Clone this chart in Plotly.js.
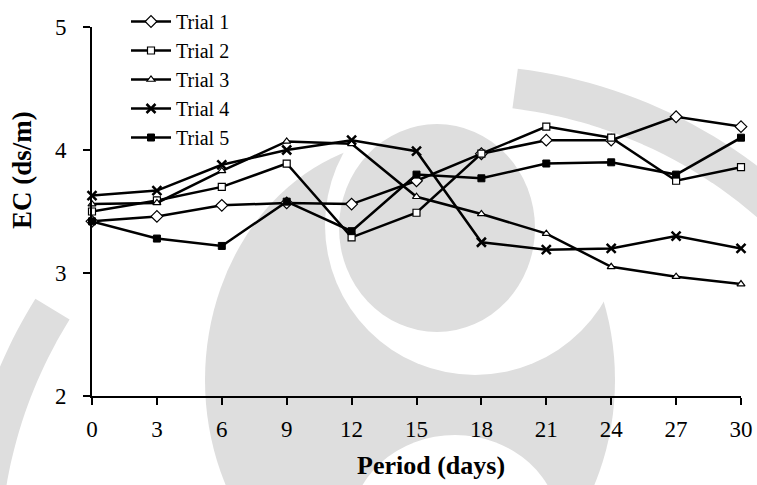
<!DOCTYPE html>
<html>
<head>
<meta charset="utf-8">
<script src="https://cdn.plot.ly/plotly-3.0.1.min.js"></script>
<style>
  html, body { margin: 0; padding: 0; background: #ffffff; }
  #chart { width: 757px; height: 485px; }
</style>
</head>
<body>
<div id="chart"></div>
<script>
// Sampling days
const days = [0, 3, 6, 9, 12, 15, 18, 21, 24, 27, 30];

// Electrical conductivity (ds/m) per trial
const trial1 = [3.42, 3.46, 3.55, 3.57, 3.56, 3.75, 3.97, 4.08, 4.08, 4.27, 4.19];
const trial2 = [3.50, 3.59, 3.70, 3.89, 3.29, 3.49, 3.97, 4.19, 4.10, 3.75, 3.86];
const trial3 = [3.56, 3.57, 3.83, 4.07, 4.05, 3.62, 3.48, 3.32, 3.05, 2.97, 2.91];
const trial4 = [3.63, 3.67, 3.88, 4.00, 4.08, 3.99, 3.25, 3.19, 3.20, 3.30, 3.20];
const trial5 = [3.42, 3.28, 3.22, 3.58, 3.34, 3.80, 3.77, 3.89, 3.90, 3.80, 4.10];

const seriesNames = ['Trial 1', 'Trial 2', 'Trial 3', 'Trial 4', 'Trial 5'];
const yTicks = [2, 3, 4, 5];
const xTicks = days;

const W = 757, H = 485;
const M = { l: 92, r: 16, t: 27, b: 89, autoexpand: false };
const PW = W - M.l - M.r, PH = H - M.t - M.b;
// page pixel -> paper coordinates (for background decoration)
const px = x => (x - M.l) / PW;
const py = y => (H - M.b - y) / PH;

const serif = 'Liberation Serif, Times New Roman, serif';
const ink = '#000000';
const lineW = 2.5;

const markerStyles = [
  { symbol: 'diamond', size: 9, color: '#ffffff', line: { color: ink, width: 1.2 } },
  { symbol: 'square', size: 7, color: '#ffffff', line: { color: ink, width: 1.2 } },
  { symbol: 'triangle-up', size: 7, color: '#ffffff', line: { color: ink, width: 1.2 } },
  { symbol: 'x-thin', size: 9, color: ink, line: { color: ink, width: 2.5 } },
  { symbol: 'square', size: 7, color: ink, line: { color: ink, width: 1 } }
];

const values = [trial1, trial2, trial3, trial4, trial5];
const traces = values.map((v, i) => ({
  type: 'scatter',
  mode: 'lines+markers',
  name: seriesNames[i],
  x: days,
  y: v,
  cliponaxis: false,
  line: { color: ink, width: lineW },
  marker: markerStyles[i]
}));

// light grey emblem in the background
const wm = '#dedede';
function ell(cx, cy, rx, ry, fill) {
  return {
    type: 'circle', xref: 'paper', yref: 'paper', layer: 'below',
    x0: px(cx - rx), x1: px(cx + rx), y0: py(cy + ry), y1: py(cy - ry),
    fillcolor: fill, line: { width: 0 }
  };
}
function arc(cx, cy, r, fromDeg, toDeg, width) {
  const pts = [];
  const n = 48;
  for (let k = 0; k <= n; k++) {
    const t = (fromDeg + (toDeg - fromDeg) * k / n) * Math.PI / 180;
    pts.push(px(cx + r * Math.cos(t)).toFixed(4) + ',' + py(cy - r * Math.sin(t)).toFixed(4));
  }
  return {
    type: 'path', xref: 'paper', yref: 'paper', layer: 'below',
    path: 'M' + pts.join('L'),
    fillcolor: 'rgba(0,0,0,0)', line: { color: wm, width: width }
  };
}
const shapes = [
  ell(410, 380, 205, 240, wm),
  ell(475, 225, 150, 150, '#ffffff'),
  ell(437, 228, 98, 104, wm),
  ell(455, 530, 105, 95, '#ffffff'),
  arc(457, 562, 477, 83, 15, 40),
  arc(457, 562, 477, 148, 200, 40)
];

const layout = {
  width: W, height: H,
  margin: M,
  paper_bgcolor: '#ffffff',
  plot_bgcolor: 'rgba(0,0,0,0)',
  font: { family: serif, color: ink, size: 22 },
  showlegend: true,
  legend: {
    x: px(126), y: py(2), xanchor: 'left', yanchor: 'top',
    bgcolor: 'rgba(0,0,0,0)', borderwidth: 0,
    font: { family: serif, size: 20, color: ink },
    itemwidth: 40
  },
  xaxis: {
    range: [0, 30],
    tickvals: xTicks,
    ticktext: xTicks.map(String),
    showgrid: false, zeroline: false,
    showline: true, linecolor: ink, linewidth: 2,
    ticks: 'outside', ticklen: 7, tickwidth: 2, tickcolor: ink,
    ticklabelstandoff: 4,
    tickfont: { family: serif, size: 23, color: ink }
  },
  yaxis: {
    range: [2, 5],
    tickvals: yTicks,
    ticktext: yTicks.map(String),
    showgrid: false, zeroline: false,
    showline: true, linecolor: ink, linewidth: 2,
    ticks: 'outside', ticklen: 7, tickwidth: 2, tickcolor: ink,
    ticklabelstandoff: 12,
    tickfont: { family: serif, size: 23, color: ink }
  },
  shapes: shapes,
  annotations: [
    {
      text: 'Period (days)', xref: 'paper', yref: 'paper',
      x: px(431), y: py(466), xanchor: 'center', yanchor: 'middle',
      showarrow: false,
      font: { family: serif, size: 26, color: ink, weight: 'bold' }
    },
    {
      text: 'EC (ds/m)', xref: 'paper', yref: 'paper',
      x: px(22), y: py(170), xanchor: 'center', yanchor: 'middle',
      textangle: -90, showarrow: false,
      font: { family: serif, size: 27, color: ink, weight: 'bold' }
    }
  ]
};

Plotly.newPlot('chart', traces, layout, { displayModeBar: false, staticPlot: true });
</script>
</body>
</html>
